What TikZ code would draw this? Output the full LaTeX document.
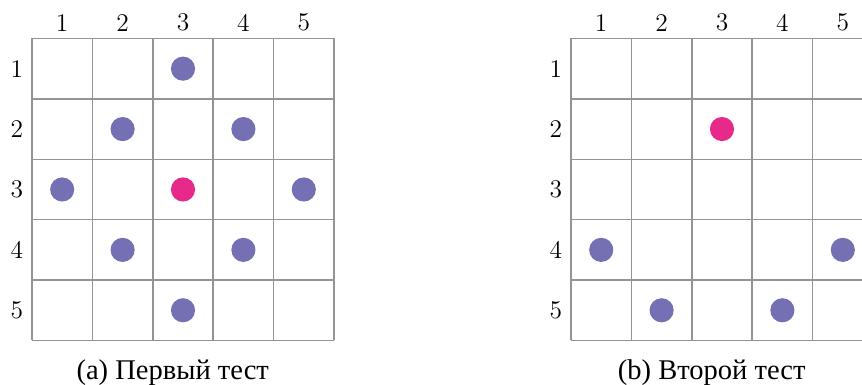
\documentclass[tikz,border=0pt]{standalone}
\usepackage{fontspec}
\newfontfamily\cyrfont[Scale=1.12]{Liberation Serif}
\usepackage{xcolor}
\usepackage{tikz}
\usetikzlibrary{positioning}
\definecolor{queenblue}{HTML}{7570B3}
\definecolor{queenpink}{HTML}{E7298A}
\definecolor{boardgray}{HTML}{949494}

\begin{document}
\begin{tikzpicture}[x=1cm, y=-1cm, every node/.style={font=\large},
        board/.style={draw=boardgray, line width=0.7pt},
        cell/.style={minimum size=1cm, inner sep=0pt},
        queen/.style={circle, fill=queenblue, minimum size=0.4cm, inner sep=0pt},
        hit/.style={queen, fill=queenpink},
        idx/.style={inner sep=0pt}]
    \clip (-0.530,-0.637) rectangle (13.742,5.737);
    % first board
    \draw[board] (0,0) grid (5,5);
    \foreach \r in {1,...,5} {
        \foreach \c in {1,...,5} {
            \node[cell] (a-\r-\c) at (\c-0.5, \r-0.5) {};
        }
        \node[idx] (ar\r) at (-0.25, \r-0.5) {\r};
        \node[idx] (ac\r) at (\r-0.5, -0.26) {\r};
    }
    \foreach \p in {1-3, 2-2, 2-4, 3-1, 3-5, 4-2, 4-4, 5-3}
        \node[queen] (qa-\p) at (a-\p) {};
    \node[hit] (qa-3-3) at (a-3-3) {};
    \node (capa) at (2.33, 5.54) {\cyrfont (a) Первый тест};
    % second board
    \begin{scope}[xshift=8.924cm]
        \draw[board] (0,0) grid (5,5);
        \foreach \r in {1,...,5} {
            \foreach \c in {1,...,5} {
                \node[cell] (b-\r-\c) at (\c-0.5, \r-0.5) {};
            }
            \node[idx] (br\r) at (-0.25, \r-0.5) {\r};
            \node[idx] (bc\r) at (\r-0.5, -0.26) {\r};
        }
        \foreach \p in {4-1, 4-5, 5-2, 5-4}
            \node[queen] (qb-\p) at (b-\p) {};
        \node[hit] (qb-2-3) at (b-2-3) {};
        \node (capb) at (2.33, 5.54) {\cyrfont (b) Второй тест};
    \end{scope}
\end{tikzpicture}
\end{document}
